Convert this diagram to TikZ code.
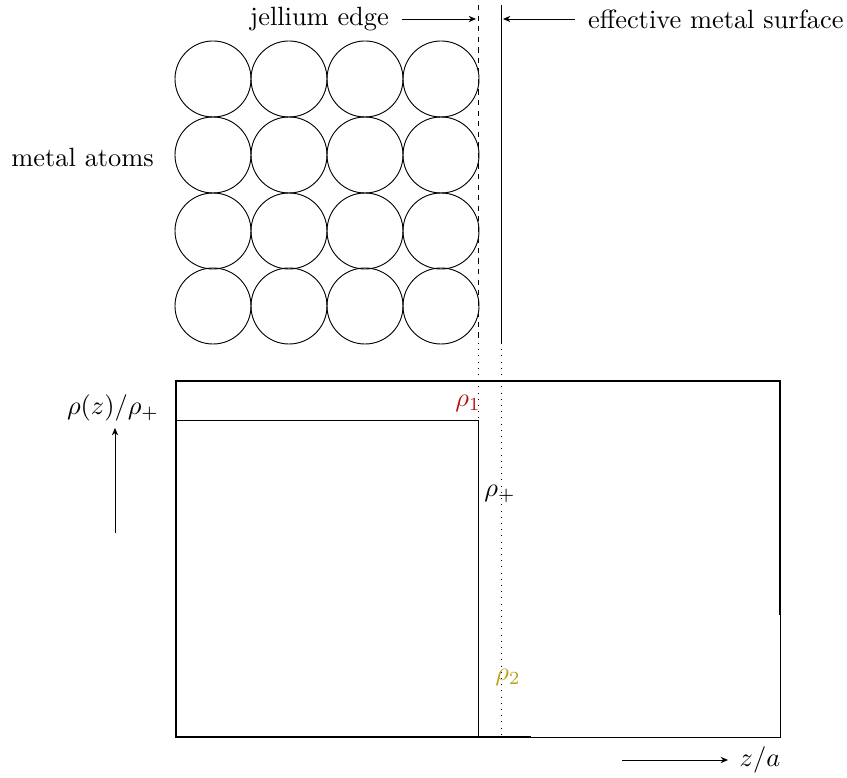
\documentclass[tikz,border=0pt]{standalone}
\usepackage{amsmath}
\usetikzlibrary{arrows.meta}
\definecolor{rhored}{rgb}{0.70,0.08,0.10}
\definecolor{rhoolive}{rgb}{0.72,0.64,0.10}
\begin{document}
\begin{tikzpicture}[x=0.3788pt,y=-0.3788pt,
  atom/.style={draw,circle,minimum size=28.8pt,inner sep=0pt,line width=0.35pt},
  lbl/.style={inner sep=1pt},
  thinline/.style={line width=0.35pt},
  frameline/.style={line width=0.75pt},
  dotline/.style={dotted,line width=0.35pt},
  arr/.style={-{Stealth[length=2.8pt,width=2.4pt]},line width=0.35pt}]
\useasboundingbox (0,0) rectangle (847,778);
% atoms
\foreach \i/\x in {1/213,2/289,3/365,4/441}{
  \foreach \j/\y in {1/79,2/155,3/231,4/306}{
    \node[atom] (a\i\j) at (\x,\y) {};
  }
}
\node[lbl,anchor=east] (ma) at (157,157) {metal atoms};
% surfaces
\coordinate (jtop) at (478,5);
\coordinate (jmid) at (478,343);
\coordinate (jbot) at (478,737);
\coordinate (stop) at (501,5);
\coordinate (smid) at (501,343);
\coordinate (sbot) at (501,737);
\draw[thinline,dash pattern=on 2pt off 2pt] (jtop) -- (jmid);
\draw[dotline] (jmid) -- (jbot);
\draw[thinline] (stop) -- (smid);
\draw[dotline] (smid) -- (sbot);
% top labels
\node[lbl,anchor=east] (je) at (392,19) {jellium edge};
\coordinate (jeend) at (476,19);
\draw[arr] (je.east) ++(10,0) -- (jeend);
\node[lbl,anchor=west] (ems) at (585,19) {effective metal surface};
\coordinate (emsend) at (503,19);
\draw[arr] (ems.west) ++(-10,0) -- (emsend);
% frame
\coordinate (fbl) at (176,737);
\coordinate (ftl) at (176,381);
\coordinate (ftr) at (780,381);
\coordinate (fr) at (780,615);
\coordinate (fbm) at (531,737);
\draw[frameline] (fbm) -- (fbl) -- (ftl) -- (ftr) -- (fr);
% step density
\coordinate (s1) at (176,420);
\coordinate (s2) at (478,420);
\coordinate (s3) at (478,737);
\coordinate (s4) at (780,737);
\draw[thinline] (s1) -- (s2) -- (s3) -- (s4) -- (fr);
% rho labels
\node[lbl,text=rhored] (r1) at (468,403) {$\rho_1$};
\node[lbl] (rp) at (500,494) {$\rho_+$};
\node[lbl,text=rhoolive] (r2) at (508,677) {$\rho_2$};
% axes
\node[lbl] (ylab) at (113,408) {$\rho(z)/\rho_+$};
\coordinate (ya) at (115,533);
\coordinate (yb) at (115,428);
\draw[arr] (ya) -- (yb);
\node[lbl] (xlab) at (760,760) {$z/a$};
\coordinate (xa) at (622,760);
\coordinate (xb) at (728,760);
\draw[arr] (xa) -- (xb);
\end{tikzpicture}
\end{document}
